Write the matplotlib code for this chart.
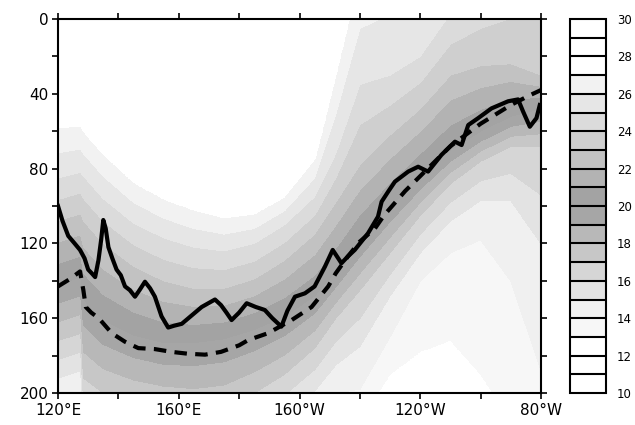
import numpy as np
import matplotlib
matplotlib.use("Agg")
import matplotlib.pyplot as plt
from matplotlib.colors import ListedColormap, BoundaryNorm

# ---------------- data ----------------
# longitudes in degrees east (120E .. 80W = 280E)
sec_lons = [120, 127.5, 128.5, 135, 145, 155, 165, 175, 185, 195, 205, 212,
            220, 230, 240, 250, 260, 270, 280]
# depth (m) of selected isotherms at each longitude
iso_temps = [27, 25, 23, 20, 17, 15, 14, 13]
iso_27 = [58, 57, 60, 72, 87, 96, 102, 106, 104, 95, 75, 30, -25, -35, -60, -90, -110, -120, -130]
iso_25 = [85, 82, 84, 96, 109, 117, 122, 124, 120, 110, 95, 72, 35, 30, 20, -3, -15, -25, -40]
iso_23 = [108, 104, 108, 120, 132, 140, 144, 144, 139, 129, 115, 98, 78, 62, 48, 30, 25, 24, 30]
iso_20 = [142, 138, 150, 161, 169, 173, 173, 171, 166, 159, 148, 135, 118, 100, 84, 70, 60, 52, 48]
iso_17 = [172, 168, 192, 200, 205, 208, 210, 208, 200, 190, 176, 160, 145, 125, 105, 88, 76, 68, 68]
iso_15 = [192, 188, 217, 227, 232, 234, 235, 232, 224, 212, 199, 185, 175, 148, 125, 108, 97, 97, 120]
iso_14 = [205, 200, 232, 242, 247, 249, 250, 247, 237, 224, 211, 200, 198, 170, 140, 125, 118, 140, 188]
iso_13 = [220, 215, 247, 257, 262, 264, 265, 262, 252, 242, 229, 218, 215, 190, 178, 172, 190, 215, 225]

# solid line (jagged)
solid_lon = [120, 121.5, 123.4, 125.5, 127.3, 128.8, 130, 131.2, 132.3, 133.4,
             134.3, 135, 135.8, 136.7, 138, 139.4, 140.8, 142.2, 143.8, 145.5,
             147, 148.8, 150.5, 152.1, 154.3, 156.5, 158.5, 161, 163.2, 165.4,
             167.6, 169.8, 172, 174, 175.8, 177.5, 180, 182.5, 185.5, 188.5,
             191, 193, 194, 196, 198.5, 201.8, 205, 208.4, 211, 213.9,
             216, 218.3, 222.7, 226, 227.2, 229.5, 231.6, 236, 239.3, 242.6,
             247, 251.5, 253.7, 255.9, 259.2, 263.6, 269.1, 272.4, 274.1, 276.3,
             278.5, 279.6]
solid_dep = [100, 108, 116, 120, 123.5, 128, 134, 136, 138, 129,
             118, 107.5, 112, 122, 128, 134, 137, 143, 145, 148.5,
             145, 140.5, 144, 148.5, 159, 165, 164, 163, 160, 157,
             154, 152, 150, 153, 157, 161, 157, 152, 154, 155.6,
             160, 163, 164.5, 156, 148.5, 146.7, 143, 132.5, 123.5, 130.6,
             127, 123.5, 114.6, 105.7, 97.7, 92, 87, 81.6, 79, 81.6,
             72.7, 65.6, 67.4, 56.7, 53, 47.8, 44, 43, 49.6, 57.6,
             53, 46]

# dashed line (smooth)
dash_lon = [120, 124, 127.3, 128.4, 129.2, 131, 133.5, 137.8, 142.2, 146.6,
            152, 157.6, 163, 168.7, 174, 180, 183, 189.6, 197.4, 204,
            209.5, 212, 216, 220, 225, 228, 235, 240, 250, 260, 270, 276, 280]
dash_dep = [143, 139, 135, 145, 154, 157, 160, 168, 172.6, 176,
            176.5, 178, 179, 179.5, 178, 174.5, 171.7, 168, 161, 154,
            143, 136, 127, 119, 112, 105, 92, 84, 68, 56, 46, 41, 38]

# colour scale
levels = list(range(10, 31))
band_gray = [1.0, 1.0, 1.0, 0.97, 0.94, 0.89, 0.84, 0.78, 0.72, 0.65,
             0.64, 0.70, 0.76, 0.81, 0.86, 0.90, 0.95, 1.0, 1.0, 1.0]
cbar_ticks = [10, 12, 14, 16, 18, 20, 22, 24, 26, 28, 30]
xticks_major = [120, 160, 200, 240, 280]
xtick_labels = ["120°E", "160°E", "160°W", "120°W", "80°W"]
yticks_major = [0, 40, 80, 120, 160, 200]

# ---------------- build section from isotherm depths ----------------
depth = np.arange(0, 200.5, 0.5)
grid_lon = np.arange(120, 280.01, 0.25)
iso_all = np.array([iso_27, iso_25, iso_23, iso_20, iso_17, iso_15, iso_14, iso_13], float)
iso_fine = np.array([np.interp(grid_lon, sec_lons, row) for row in iso_all])
T = np.empty((depth.size, grid_lon.size))
for j in range(grid_lon.size):
    T[:, j] = np.interp(depth, iso_fine[:, j], iso_temps, left=28.5, right=11.5)

plt.rcParams['font.family'] = ['DejaVu Sans']
fig = plt.figure(figsize=(6.35, 4.25), dpi=100)
ax = fig.add_axes([58/635, (425-393)/425, 483/635, 374/425])
cax = fig.add_axes([570/635, (425-393)/425, 36/635, 374/425])

cmap = ListedColormap([(g, g, g) for g in band_gray])
norm = BoundaryNorm(levels, cmap.N)
cf = ax.contourf(grid_lon, depth, T, levels=levels, cmap=cmap, norm=norm)

ax.plot(solid_lon, solid_dep, color='black', lw=3.0, solid_joinstyle='round')
ax.plot(dash_lon, dash_dep, color='black', lw=3.0, linestyle=(0, (3, 2)))

ax.set_xlim(120, 280)
ax.set_ylim(200, 0)
ax.set_xticks(xticks_major)
ax.set_xticklabels(xtick_labels)
ax.set_xticks([140, 180, 220, 260], minor=True)
ax.set_yticks(yticks_major)
ax.set_yticks([20, 60, 100, 140, 180], minor=True)
ax.tick_params(which='both', direction='out', length=4, width=1.2,
               top=True, right=True, labelsize=11, pad=3)
for s in ax.spines.values():
    s.set_linewidth(1.5)

cb = fig.colorbar(cf, cax=cax, ticks=cbar_ticks, drawedges=True)
cb.minorticks_off()
cb.outline.set_linewidth(1.5)
cb.dividers.set_linewidth(1.5)
cb.dividers.set_color('black')
cax.tick_params(which='both', length=0, labelsize=8.5, pad=8)

fig.savefig("out.png", dpi=100)
